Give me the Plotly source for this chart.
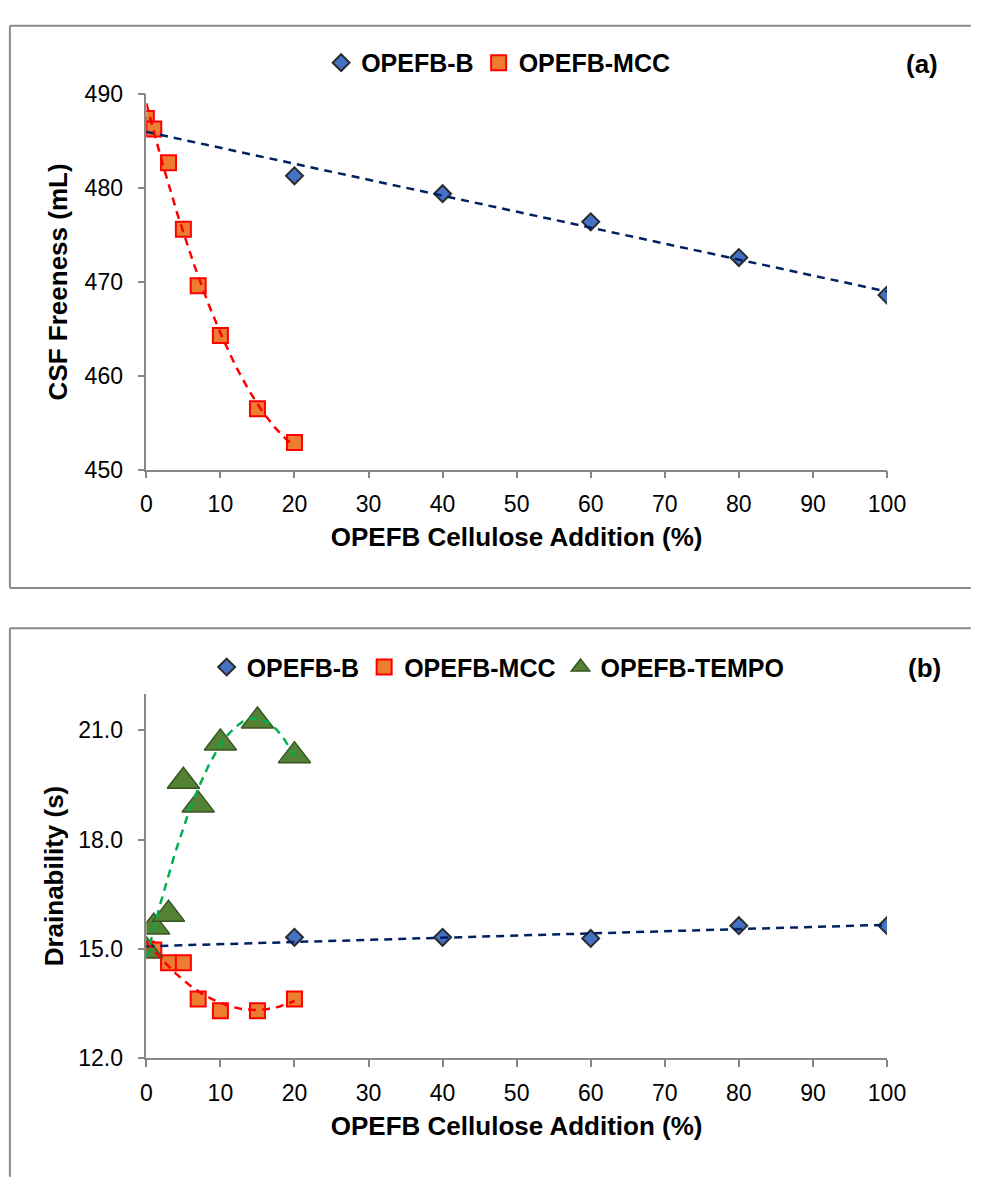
import numpy as np
import plotly.graph_objects as go

# ---------------- data ----------------
# Panel (a): CSF Freeness (mL)
a_b_x = [0, 20, 40, 60, 80, 100]
a_b_y = [486.6, 481.3, 479.4, 476.4, 472.6, 468.6]
a_mcc_x = [0, 1, 3, 5, 7, 10, 15, 20]
a_mcc_y = [487.4, 486.3, 482.7, 475.6, 469.6, 464.3, 456.5, 452.9]

# Panel (b): Drainability (s)
b_b_x = [0, 20, 40, 60, 80, 100]
b_b_y = [15.0, 15.32, 15.32, 15.29, 15.64, 15.64]
b_mcc_x = [0, 1, 3, 5, 7, 10, 15, 20]
b_mcc_y = [15.0, 14.97, 14.62, 14.62, 13.63, 13.31, 13.31, 13.63]
b_tempo_x = [0, 1, 3, 5, 7, 10, 15, 20]
b_tempo_y = [14.95, 15.6, 15.95, 19.6, 18.95, 20.65, 21.25, 20.3]

x_ticks = list(range(0, 101, 10))
a_y_ticks = [450, 460, 470, 480, 490]
b_y_ticks = [12.0, 15.0, 18.0, 21.0]

# ---------------- styles ----------------
FONT = "Liberation Sans, Arial, sans-serif"
AX = "#868686"
BLUE_FILL, BLUE_EDGE, BLUE_LINE = "#4472C4", "#2B2B2B", "#002060"
OR_FILL, OR_EDGE, RED_LINE = "#ED7D31", "#FF0000", "#FF0000"
GR_FILL, GR_EDGE, GR_LINE = "#548235", "#375623", "#00B050"
DASH = "8px,6px"

W, H = 982, 1179


def trend(x, y, deg, x0, x1):
    c = np.polyfit(x, y, deg)
    xs = np.linspace(x0, x1, 200)
    return xs, np.polyval(c, xs)


fig = go.Figure()

diamond = dict(symbol="diamond", size=13, color=BLUE_FILL, line=dict(color=BLUE_EDGE, width=2))
square = dict(symbol="square", size=15, color=OR_FILL, line=dict(color=OR_EDGE, width=2))
tri = dict(symbol="triangle-up", size=28, color=GR_FILL, line=dict(color=GR_EDGE, width=1.5))

# Panel (a) markers
fig.add_trace(go.Scatter(x=a_b_x, y=a_b_y, mode="markers", name="OPEFB-B", marker=diamond,
                         xaxis="x", yaxis="y", legend="legend"))
fig.add_trace(go.Scatter(x=a_mcc_x, y=a_mcc_y, mode="markers", name="OPEFB-MCC", marker=square,
                         xaxis="x", yaxis="y", legend="legend"))
# Panel (a) trendlines
xs, ys = trend(a_b_x, a_b_y, 1, 0, 100)
fig.add_trace(go.Scatter(x=xs, y=ys, mode="lines", line=dict(color=BLUE_LINE, width=2.5, dash=DASH),
                         showlegend=False, hoverinfo="skip", xaxis="x", yaxis="y"))
xs, ys = trend(a_mcc_x, a_mcc_y, 2, 0, 20)
fig.add_trace(go.Scatter(x=xs, y=ys, mode="lines", line=dict(color=RED_LINE, width=2.5, dash=DASH),
                         showlegend=False, hoverinfo="skip", xaxis="x", yaxis="y"))

# Panel (b) markers
fig.add_trace(go.Scatter(x=b_b_x, y=b_b_y, mode="markers", name="OPEFB-B", marker=diamond,
                         xaxis="x2", yaxis="y2", legend="legend2"))
fig.add_trace(go.Scatter(x=b_mcc_x, y=b_mcc_y, mode="markers", name="OPEFB-MCC", marker=square,
                         xaxis="x2", yaxis="y2", legend="legend2"))
fig.add_trace(go.Scatter(x=b_tempo_x, y=b_tempo_y, mode="markers", name="OPEFB-TEMPO", marker=tri,
                         xaxis="x2", yaxis="y2", legend="legend2"))
# Panel (b) trendlines
xs, ys = trend(b_b_x, b_b_y, 1, 0, 100)
fig.add_trace(go.Scatter(x=xs, y=ys, mode="lines", line=dict(color=BLUE_LINE, width=2.5, dash=DASH),
                         showlegend=False, hoverinfo="skip", xaxis="x2", yaxis="y2"))
xs, ys = trend(b_mcc_x, b_mcc_y, 2, 0, 20)
fig.add_trace(go.Scatter(x=xs, y=ys, mode="lines", line=dict(color=RED_LINE, width=2.5, dash=DASH),
                         showlegend=False, hoverinfo="skip", xaxis="x2", yaxis="y2"))
xs, ys = trend(b_tempo_x, b_tempo_y, 3, 0, 20)
fig.add_trace(go.Scatter(x=xs, y=ys, mode="lines", line=dict(color=GR_LINE, width=2.5, dash=DASH),
                         showlegend=False, hoverinfo="skip", xaxis="x2", yaxis="y2"))

xdom = [144 / W, 904 / W]
ya_dom = [1 - 467 / H, 1 - 83 / H]
yb_dom = [1 - 1069 / H, 1 - 696 / H]

tickfont = dict(family=FONT, size=23, color="#000000")
titlefont = dict(family=FONT, size=26, color="#000000", weight="bold")

common_x = dict(range=[0, 100], tickvals=x_ticks, showline=True, linecolor=AX, linewidth=1.5,
                ticks="outside", ticklen=7, tickcolor=AX, tickwidth=1.5, showgrid=False, zeroline=False,
                tickfont=tickfont, fixedrange=True, ticklabelstandoff=6)
common_y = dict(showline=True, linecolor=AX, linewidth=1.5, ticks="outside", ticklen=7, tickcolor=AX,
                tickwidth=1.5, showgrid=False, zeroline=False, tickfont=tickfont, fixedrange=True,
                ticklabelstandoff=10)

fig.update_layout(
    width=W, height=H, autosize=False,
    margin=dict(l=0, r=0, t=0, b=0),
    paper_bgcolor="white", plot_bgcolor="white",
    xaxis=dict(domain=xdom, anchor="y",
               title=dict(text="OPEFB Cellulose Addition (%)", font=titlefont, standoff=12),
               **common_x),
    yaxis=dict(domain=ya_dom, anchor="x", range=[450, 490], tickvals=a_y_ticks,
               title=dict(text="CSF Freeness (mL)", font=titlefont, standoff=9), **common_y),
    xaxis2=dict(domain=xdom, anchor="y2",
                title=dict(text="OPEFB Cellulose Addition (%)", font=titlefont, standoff=12),
                **common_x),
    yaxis2=dict(domain=yb_dom, anchor="x2", range=[12, 22], tickvals=b_y_ticks, tickformat=".1f",
                title=dict(text="Drainability (s)", font=titlefont, standoff=7), **common_y),
    legend=dict(orientation="h", x=505 / W, xanchor="center", y=1 - 51 / H, yanchor="middle",
                font=dict(family=FONT, size=25, color="#000000", weight="bold"),
                bgcolor="rgba(0,0,0,0)", itemwidth=30, tracegroupgap=0),
    legend2=dict(orientation="h", x=505 / W, xanchor="center", y=1 - 669 / H, yanchor="middle",
                 font=dict(family=FONT, size=25, color="#000000", weight="bold"),
                 bgcolor="rgba(0,0,0,0)", itemwidth=30, tracegroupgap=0),
    showlegend=True,
)

fig.add_annotation(text="(a)", x=940 / W, y=1 - 52 / H, xref="paper", yref="paper", showarrow=False,
                   font=dict(family=FONT, size=26, color="#000000", weight="bold"),
                   xanchor="center", yanchor="middle")
fig.add_annotation(text="(b)", x=942 / W, y=1 - 670 / H, xref="paper", yref="paper", showarrow=False,
                   font=dict(family=FONT, size=26, color="#000000", weight="bold"),
                   xanchor="center", yanchor="middle")

# Panel frames
FR = dict(color="#8A8A8A", width=2)
for (x0, y0, x1, y1) in [(4, 13, 990, 13), (4, 13, 4, 588), (4, 588, 990, 588),
                         (4, 629, 990, 629), (4, 629, 4, 1190)]:
    fig.add_shape(type="line", xref="paper", yref="paper",
                  x0=x0 / W, x1=x1 / W, y0=1 - y0 / H, y1=1 - y1 / H, line=FR)

fig.write_html("out.html", config={"displayModeBar": False},
               post_script="document.body.style.margin='0';")
